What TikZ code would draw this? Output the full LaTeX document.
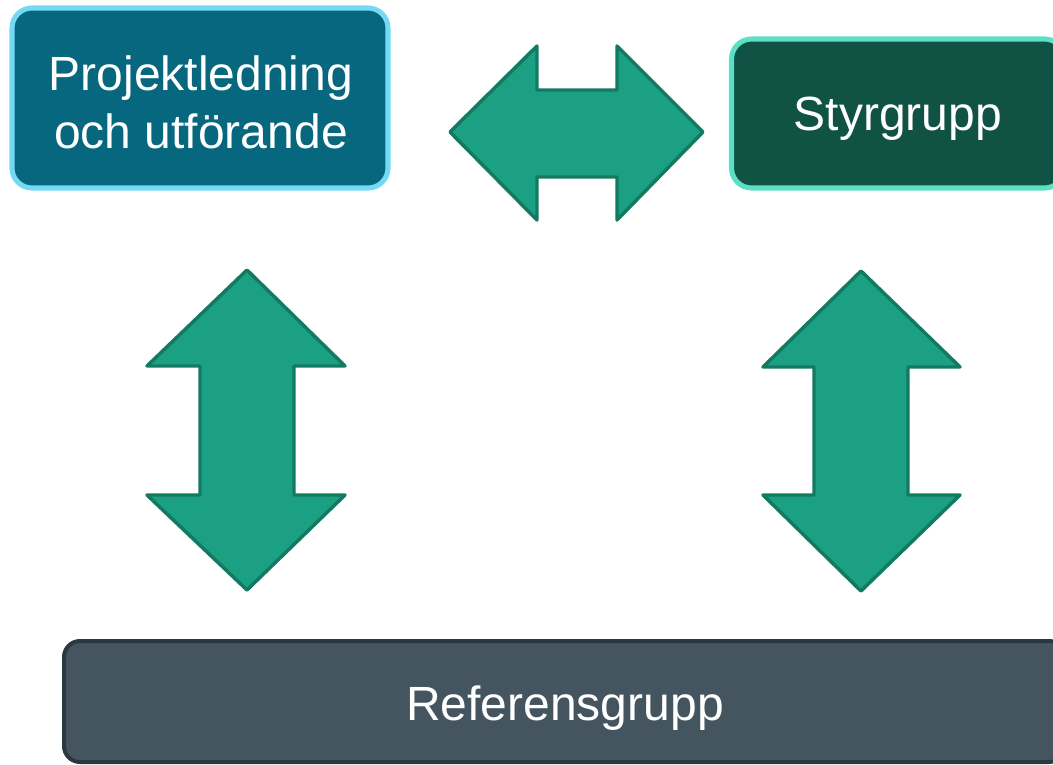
\documentclass[tikz,border=0pt]{standalone}
\usepackage{fontspec}
\setmainfont{Liberation Sans}
\definecolor{boxa}{HTML}{06677F}
\definecolor{boxaline}{HTML}{74D9F5}
\definecolor{boxb}{HTML}{105244}
\definecolor{boxbline}{HTML}{5BE0C4}
\definecolor{boxc}{HTML}{455560}
\definecolor{boxcline}{HTML}{2B3840}
\definecolor{arrfill}{HTML}{1CA083}
\definecolor{arrline}{HTML}{137A62}
\tikzset{
  group/.style={rounded corners=20*0.75pt, inner sep=0pt},
  grouptext/.style={text=white, align=center, inner sep=0pt,
    font=\fontsize{36}{43.5}\selectfont},
  blockarrow/.style={fill=arrfill, draw=arrline, line width=2.6pt, line join=round}
}
\begin{document}
\begin{tikzpicture}[x=0.75pt,y=-0.75pt]
\useasboundingbox (0,0) rectangle (1053,764);
\begin{scope}
\clip (0,0) rectangle (1053,764);
\node[group, fill=boxa, draw=boxaline, line width=3.8pt, minimum width=376*0.75pt, minimum height=180*0.75pt] (proj) at (200,98) {};
\node[grouptext] (projtext) at (201,102) {Projektledning\\och utförande};
\node[group, fill=boxb, draw=boxbline, line width=3.8pt, minimum width=333*0.75pt, minimum height=149*0.75pt] (styr) at (898,113.5) {};
\node[grouptext] (styrtext) at (898,119) {Styrgrupp};
\node[group, rounded corners=16*0.75pt, fill=boxc, draw=boxcline, line width=3pt, minimum width=1001*0.75pt, minimum height=121*0.75pt] (ref) at (564.5,701.5) {};
\node[grouptext] (reftext) at (565,708) {Referensgrupp};
\draw[blockarrow] (450,132) -- (537,46) -- (537,90) -- (617,90) -- (617,46) -- (703,132) -- (617,220) -- (617,177) -- (537,177) -- (537,220) -- cycle;
\draw[blockarrow] (247,270) -- (345,366) -- (294,366) -- (294,495) -- (345,495) -- (247,590) -- (147,495) -- (200,495) -- (200,366) -- (147,366) -- cycle;
\draw[blockarrow] (861,271) -- (960,367) -- (908,367) -- (908,495) -- (960,495) -- (861,591) -- (763,495) -- (814,495) -- (814,367) -- (763,367) -- cycle;
\end{scope}
\end{tikzpicture}
\end{document}
